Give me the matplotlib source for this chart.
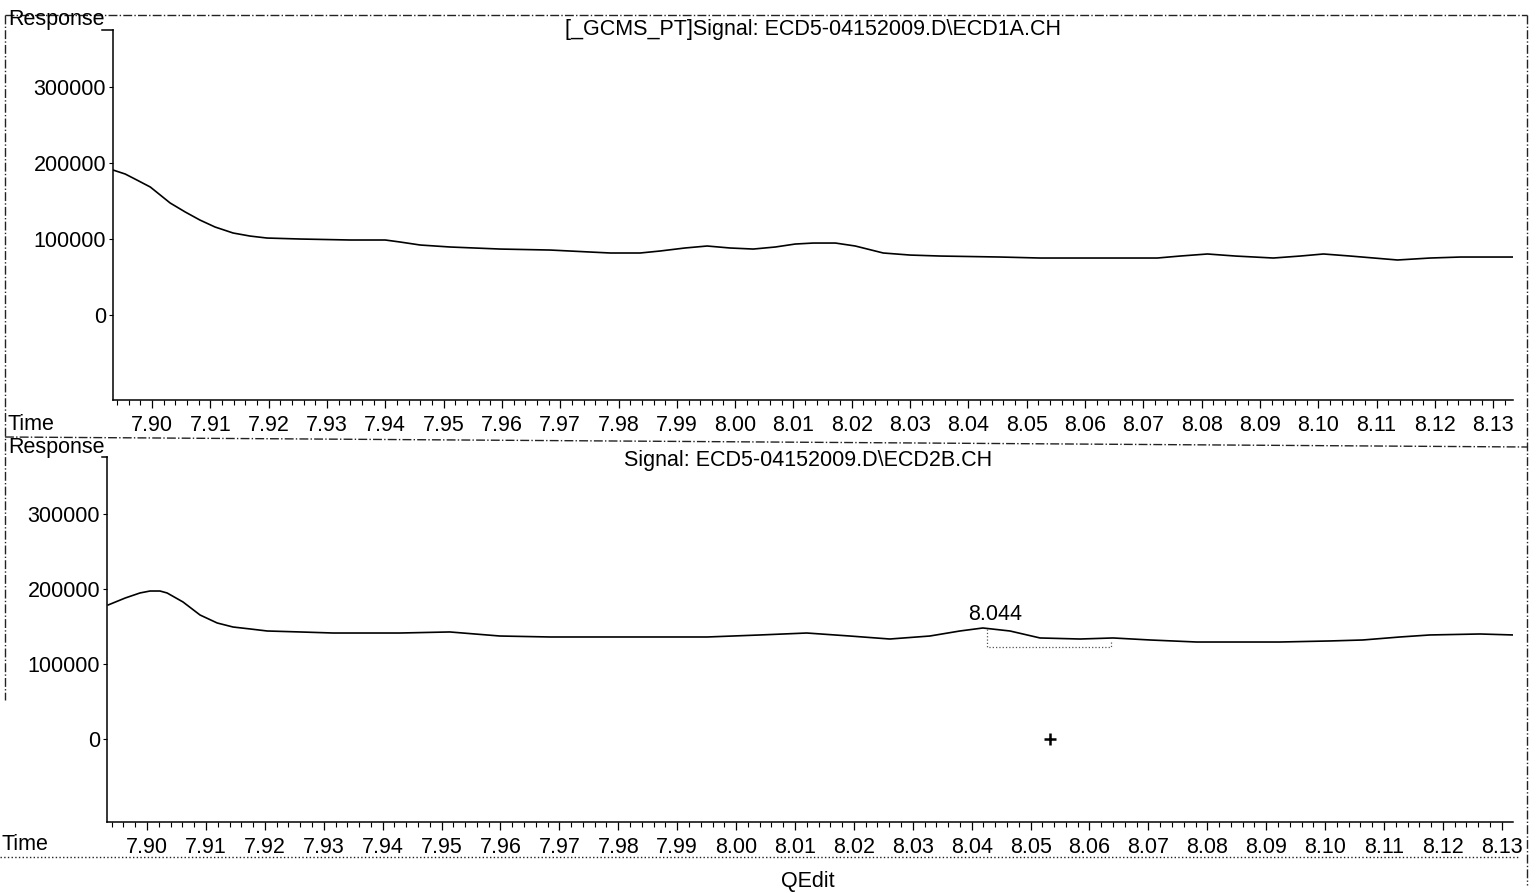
import numpy as np
import matplotlib.pyplot as plt
from matplotlib.lines import Line2D
from matplotlib.ticker import MultipleLocator, FixedLocator

plt.rcParams['font.family'] = ['Liberation Sans', 'DejaVu Sans']

# Signal ECD1A (top trace)
time_a = [7.8933, 7.8954, 7.8974, 7.8997, 7.9014, 7.9031, 7.9057, 7.9082, 7.9108, 7.9139,
          7.9168, 7.9197, 7.9254, 7.9340, 7.9400, 7.9425, 7.9460, 7.9511, 7.9597, 7.9683,
          7.9751, 7.9786, 7.9837, 7.9871, 7.9914, 7.9952, 7.9991, 8.0031, 8.0069, 8.0103,
          8.0134, 8.0172, 8.0206, 8.0254, 8.0300, 8.0352, 8.0455, 8.0523, 8.0724, 8.0763,
          8.0810, 8.0858, 8.0923, 8.0969, 8.1009, 8.1055, 8.1136, 8.1192, 8.1244, 8.1334]
resp_a = [190800, 185500, 177600, 168400, 157900, 147400, 135500, 125000, 115800, 107900,
          103900, 101300, 100000, 98700, 98700, 96100, 92100, 89500, 86800, 85500,
          82900, 81600, 81600, 84200, 88200, 90800, 88200, 86800, 89500, 93400,
          94700, 94700, 90800, 81600, 78900, 77600, 76300, 75000, 75000, 77600,
          80300, 77600, 75000, 77600, 80300, 77600, 72400, 75000, 76300, 76300]

# Signal ECD2B (bottom trace)
time_b = [7.8934, 7.8963, 7.8988, 7.9005, 7.9022, 7.9034, 7.9061, 7.9090, 7.9119, 7.9146,
          7.9175, 7.9204, 7.9260, 7.9316, 7.9429, 7.9514, 7.9599, 7.9684, 7.9951, 8.0041,
          8.0120, 8.0193, 8.0261, 8.0329, 8.0380, 8.0419, 8.0465, 8.0516, 8.0584, 8.0640,
          8.0703, 8.0782, 8.0923, 8.1008, 8.1064, 8.1127, 8.1178, 8.1263, 8.1319]
resp_b = [178700, 188000, 194700, 197300, 197300, 194700, 182700, 165300, 154700, 149300,
          146700, 144000, 142700, 141300, 141300, 142700, 137300, 136000, 136000, 138700,
          141300, 137300, 133300, 137300, 144000, 148000, 144000, 134700, 133300, 134700,
          132000, 129300, 129300, 130700, 132000, 136000, 138700, 140000, 138700]

peak_time = 8.044
peak_resp = 148000
base_start, base_end = 8.0426, 8.0636
base_resp = [122700, 132000]
cursor = (8.0533, 0)

title_a = '[_GCMS_PT]Signal: ECD5-04152009.D\\ECD1A.CH'
title_b = 'Signal: ECD5-04152009.D\\ECD2B.CH'
y_ticks = [0, 100000, 200000, 300000]

FS = 15.5
W, H = 1536, 893
fig = plt.figure(figsize=(W / 100, H / 100), dpi=100)


def fx(px):
    return px / W


def fy(py):
    return 1 - py / H


def style_axis(ax, xlim, ylim):
    ax.set_xlim(*xlim)
    ax.set_ylim(*ylim)
    for s in ['top', 'right']:
        ax.spines[s].set_visible(False)
    ax.spines['left'].set_linewidth(1.1)
    ax.spines['bottom'].set_linewidth(1.1)
    ax.xaxis.set_major_locator(MultipleLocator(0.01))
    ax.xaxis.set_minor_locator(MultipleLocator(0.002))
    ax.xaxis.set_major_formatter(plt.FuncFormatter(lambda v, p: f'{v:.2f}'))
    ax.yaxis.set_major_locator(FixedLocator(y_ticks))
    ax.tick_params(axis='x', which='major', length=6, width=0.9, pad=5, labelsize=FS)
    ax.tick_params(axis='x', which='minor', length=3.5, width=0.8)
    ax.tick_params(axis='y', length=3, width=0.8, pad=2, labelsize=FS)
    ax.patch.set_alpha(0)


# top panel
ax1 = fig.add_axes([fx(113), fy(400), fx(1513 - 113), fy(30) - fy(400)])
ax1.plot(time_a, resp_a, color='black', lw=1.2)
style_axis(ax1, (7.8933, 8.1334), (-111800, 375000))

# bottom panel
ax2 = fig.add_axes([fx(107), fy(822), fx(1513 - 107), fy(457) - fy(822)])
ax2.plot(time_b, resp_b, color='black', lw=1.2)
style_axis(ax2, (7.8932, 8.1319), (-110700, 376000))

# peak annotation
ax2.text(peak_time, peak_resp + 4000, f'{peak_time:.3f}', ha='center', va='bottom', fontsize=FS)
ax2.plot([base_start, base_start, base_end, base_end],
         [peak_resp - 2000, base_resp[0], base_resp[0], base_resp[1]],
         color='#555555', lw=0.9, ls=':')
ax2.plot(*cursor, marker='+', color='black', ms=8, mew=1.8)

# titles and labels
fig.text(fx(813), fy(30), title_a, ha='center', va='center', fontsize=FS)
fig.text(fx(808), fy(460), title_b, ha='center', va='center', fontsize=FS)
for y, spine_x, ytop in [(19, 113, 30), (447, 107, 457)]:
    fig.text(fx(8), fy(y), 'Response', ha='left', va='center', fontsize=FS)
    fig.add_artist(Line2D([fx(102), fx(spine_x)], [fy(ytop), fy(ytop)], color='black', lw=1.1))
fig.text(fx(8), fy(424), 'Time', ha='left', va='center', fontsize=FS)
fig.text(fx(2), fy(845), 'Time', ha='left', va='center', fontsize=FS)
fig.text(fx(808), fy(882), 'QEdit', ha='center', va='center', fontsize=FS)

# scanned page frame
frame = [([5, 1527], [15, 15], '-.'),
         ([5, 5], [15, 700], '-.'),
         ([1527, 1527], [15, 885], '-.'),
         ([5, 1527], [437, 447], '-.'),
         ([0, 1520], [857, 857], ':')]
for xs, ys, ls in frame:
    fig.add_artist(Line2D([fx(v) for v in xs], [fy(v) for v in ys],
                          color='#222222', lw=1.0, ls=ls))

fig.savefig('out.png', dpi=100)
